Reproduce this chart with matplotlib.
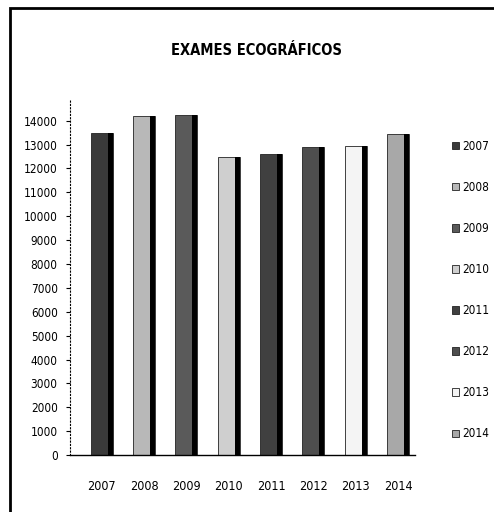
import matplotlib
matplotlib.use("Agg")
import matplotlib.pyplot as plt
import matplotlib.transforms as mtransforms
from matplotlib.patches import Rectangle
import numpy as np

plt.rcParams['font.family'] = ['DejaVu Sans']
plt.rcParams['font.stretch'] = 'condensed'

years = ['2007', '2008', '2009', '2010', '2011', '2012', '2013', '2014']
exames = [13500, 14200, 14250, 12500, 12600, 12900, 12950, 13450]
face_colors = ['#3a3a3a', '#b8b8b8', '#5a5a5a', '#cfcfcf',
               '#404040', '#4e4e4e', '#f4f4f4', '#a8a8a8']
yticks = np.arange(0, 14001, 1000)

fig = plt.figure(figsize=(4.94, 5.12), dpi=100)
ax = fig.add_axes([0.142, 0.111, 0.698, 0.693])

x = np.arange(len(years))
bars = ax.bar(x, exames, width=0.52, color=face_colors,
              edgecolor='#222222', linewidth=0.6, zorder=2)
# dark right side of the 3d columns
ax.bar(x + 0.2, exames, width=0.12, color='black', linewidth=0, zorder=3)

ax.set_xlim(-0.75, 7.4)
ax.set_ylim(0, 14850)
ax.set_yticks(yticks)
ax.set_yticklabels([str(v) for v in yticks], fontsize=8.5)
ax.set_xticks(x)
ax.set_xticklabels(years, fontsize=9)
offset = mtransforms.ScaledTranslation(-6 / 100, 0, fig.dpi_scale_trans)
for lab in ax.get_xticklabels():
    lab.set_transform(lab.get_transform() + offset)
ax.tick_params(axis='x', length=0, pad=18)
ax.tick_params(axis='y', length=3, width=0.8, pad=6)

for side in ['top', 'right']:
    ax.spines[side].set_visible(False)
ax.spines['left'].set_linestyle((0, (1, 2)))
ax.spines['bottom'].set_linestyle((0, (3, 1)))
ax.spines['left'].set_linewidth(0.8)
ax.spines['bottom'].set_linewidth(1.0)

fig.text(0.52, 0.902, 'EXAMES ECOGRÁFICOS', ha='center', va='center',
         fontsize=10.5, fontweight='bold')

ax.legend(bars, years, loc='upper left', bbox_to_anchor=(0.915, 0.727),
          bbox_transform=fig.transFigure, frameon=False, fontsize=8.5,
          handlelength=0.6, handleheight=0.6, handletextpad=0.3,
          labelspacing=2.38, borderaxespad=0, borderpad=0)

# outer chart frame (left and top edges visible)
fig.patches.append(Rectangle((0.02, -0.05), 1.2, 1.035, transform=fig.transFigure,
                             fill=False, edgecolor='black', linewidth=2))

fig.savefig('out.png', dpi=100)
